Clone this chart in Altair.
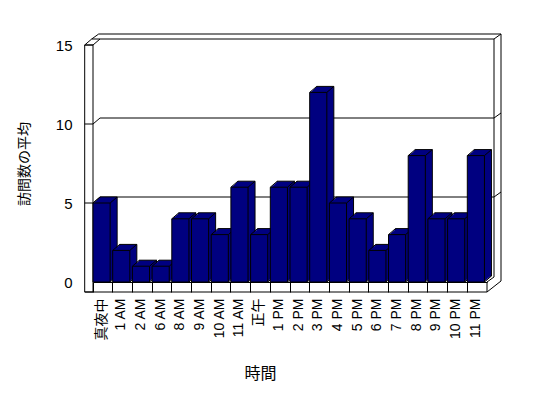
import altair as alt
import pandas as pd

# ---- data ----
categories = ["真夜中", "1 AM", "2 AM", "6 AM", "8 AM", "9 AM", "10 AM", "11 AM", "正午",
              "1 PM", "2 PM", "3 PM", "4 PM", "5 PM", "6 PM", "7 PM", "8 PM", "9 PM",
              "10 PM", "11 PM"]
visits = [5, 2, 1, 1, 4, 4, 3, 6, 3, 6, 6, 12, 5, 4, 2, 3, 8, 4, 4, 8]
y_ticks = [0, 5, 10, 15]
grid_values = [5, 10, 15]
x_title = "時間"
y_title = "訪問数の平均"

# ---- layout / style ----
W, H = 394, 237
DX, DY = 7, -6          # depth of bars / inner wall
ODX, ODY = 14, -11      # depth of outer wall edge
WALL = 8.3              # thickness of left wall face
FLOOR = 10              # thickness of floor face
NAVY = "#000080"
FONT = "Liberation Sans, Noto Sans CJK JP"

df = pd.DataFrame({"cat": categories, "v": visits})
gdf = pd.DataFrame({"g": grid_values})
one = alt.Data(values=[{"a": 1}])

xscale = alt.Scale(domain=categories, paddingInner=0.13, paddingOuter=0.065, align=0, round=False)
yscale = alt.Scale(domain=[0, 15], nice=False, zero=True)

x_axis = alt.Axis(title=x_title, bandPosition=0, tickSize=FLOOR, tickColor="black", domainColor="black",
                  labelAngle=-90, labelPadding=6, labelFont=FONT, labelFontSize=14, labelColor="black",
                  titleFont=FONT, titleFontSize=16, titleFontWeight="normal", titleColor="black",
                  titleX=167, titleY=91, titleBaseline="middle", titleAlign="center",
                  grid=False)
y_axis = alt.Axis(title=y_title, values=y_ticks, offset=WALL, domain=False, ticks=False, tickSize=0,
                  labelPadding=12.7, labelFont=FONT, labelFontSize=15, labelColor="black",
                  titleFont=FONT, titleFontSize=14, titleFontWeight="normal", titleColor="black",
                  titlePadding=24, grid=False)

def X(**kw):
    return alt.X("cat:N", scale=xscale, sort=categories, axis=x_axis, **kw)

def Yv():
    return alt.Y("v:Q", scale=yscale, axis=y_axis)

def Yg():
    return alt.Y("g:Q", scale=yscale, axis=y_axis)

line = dict(color="black", strokeWidth=1)

# left wall front face
left_wall = alt.Chart(one).mark_rect(fill="white", stroke="black", strokeWidth=1).encode(
    x=alt.value(-WALL), x2=alt.value(0), y=alt.value(0), y2=alt.value(H + FLOOR))

# grid lines through the wall
g_front = alt.Chart(gdf).mark_rule(**line).encode(x=alt.value(-WALL), x2=alt.value(0), y=Yg())
g_ldiag = alt.Chart(gdf).mark_rule(y2Offset=DY, **line).encode(
    x=alt.value(0), x2=alt.value(DX), y=Yg(), y2=alt.Y2("g:Q"))
g_back = alt.Chart(gdf).mark_rule(yOffset=DY, **line).encode(
    x=alt.value(DX), x2=alt.value(W + DX), y=Yg())
g_rdiag = alt.Chart(gdf).mark_rule(yOffset=DY, y2Offset=ODY, **line).encode(
    x=alt.value(W + DX), x2=alt.value(W + ODX), y=Yg(), y2=alt.Y2("g:Q"))

# top of the left wall and outer top edge
top_ldiag = alt.Chart(one).mark_rule(y2Offset=DY, **line).encode(
    x=alt.value(-WALL), x2=alt.value(-WALL + DX), y=alt.datum(15, scale=yscale), y2=alt.datum(15))
top_inner = alt.Chart(one).mark_rule(yOffset=DY, **line).encode(
    x=alt.value(-WALL + DX), x2=alt.value(DX), y=alt.datum(15, scale=yscale))
top_odiag = alt.Chart(one).mark_rule(yOffset=DY, y2Offset=ODY, **line).encode(
    x=alt.value(-WALL + DX), x2=alt.value(-WALL + ODX), y=alt.datum(15, scale=yscale), y2=alt.datum(15))
top_outer = alt.Chart(one).mark_rule(yOffset=ODY, **line).encode(
    x=alt.value(-WALL + ODX), x2=alt.value(W + ODX), y=alt.datum(15, scale=yscale))

# right side edges
r_inner = alt.Chart(one).mark_rule(yOffset=DY, y2Offset=-5, **line).encode(
    x=alt.value(W + DX), y=alt.datum(15, scale=yscale), y2=alt.datum(0))
r_outer = alt.Chart(one).mark_rule(yOffset=ODY, y2Offset=FLOOR + ODY, **line).encode(
    x=alt.value(W + ODX), y=alt.datum(15, scale=yscale), y2=alt.datum(0))
r_fdiag1 = alt.Chart(one).mark_rule(y2Offset=-5, **line).encode(
    x=alt.value(W), x2=alt.value(W + DX), y=alt.datum(0, scale=yscale), y2=alt.datum(0))
r_fdiag2 = alt.Chart(one).mark_rule(yOffset=FLOOR, y2Offset=FLOOR + ODY, **line).encode(
    x=alt.value(W), x2=alt.value(W + ODX), y=alt.datum(0, scale=yscale), y2=alt.datum(0))

# floor front face
floor_right = alt.Chart(one).mark_rule(y2Offset=FLOOR, **line).encode(
    x=alt.value(W), y=alt.datum(0, scale=yscale), y2=alt.datum(0))
floor_bottom = alt.Chart(one).mark_rule(yOffset=FLOOR, **line).encode(
    x=alt.value(-WALL), x2=alt.value(W), y=alt.datum(0, scale=yscale))

# 3D bars: stacked offset copies build the top and side faces
depth_layers = []
for k in range(7, 0, -1):
    ox = DX * k / 7
    oy = DY * k / 7
    kw = dict(xOffset=ox, x2Offset=ox, yOffset=oy, y2Offset=oy, fill=NAVY)
    if k == 7:
        kw.update(stroke="black", strokeWidth=1)
    else:
        kw.update(strokeWidth=0)
    depth_layers.append(alt.Chart(df).mark_bar(**kw).encode(x=X(), y=Yv()))

diag_tl = alt.Chart(df).mark_rule(x2Offset=DX, y2Offset=DY, **line).encode(
    x=X(bandPosition=0), x2=alt.X2("cat:N", bandPosition=0), y=Yv(), y2=alt.Y2("v:Q"))
diag_tr = alt.Chart(df).mark_rule(x2Offset=DX, y2Offset=DY, **line).encode(
    x=X(bandPosition=1), x2=alt.X2("cat:N", bandPosition=1), y=Yv(), y2=alt.Y2("v:Q"))
diag_br = alt.Chart(df).mark_rule(x2Offset=DX, y2Offset=DY, **line).encode(
    x=X(bandPosition=1), x2=alt.X2("cat:N", bandPosition=1),
    y=alt.datum(0, scale=yscale), y2=alt.datum(0))

front = alt.Chart(df).mark_bar(fill=NAVY, stroke="black", strokeWidth=1).encode(x=X(), y=Yv())

chart = alt.layer(
    left_wall, g_front, g_ldiag, g_back, g_rdiag,
    top_ldiag, top_inner, top_odiag, top_outer,
    r_inner, r_outer, r_fdiag1, r_fdiag2, floor_right, floor_bottom,
    *depth_layers, diag_tl, diag_tr, diag_br, front,
).properties(
    width=W, height=H,
    padding={"left": 85, "top": 37, "right": 30, "bottom": 100},
    autosize="none", background="white",
).configure_view(stroke=None)

chart.save("out.html", embed_options={"renderer": "svg", "actions": False})
